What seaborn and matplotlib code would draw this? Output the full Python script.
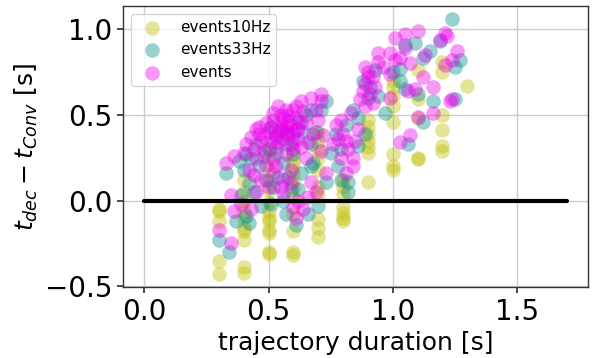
import matplotlib
matplotlib.use("Agg")
import matplotlib.pyplot as plt
import seaborn as sns
import pandas as pd

# events10Hz: durations sit on a 0.1 s grid
x_10hz = ([0.3] * 5 + [0.4] * 10 + [0.5] * 13 + [0.6] * 11 + [0.7] * 10 + [0.8] * 7
          + [0.9] * 7 + [1.0] * 8 + [1.1] * 5 + [1.2] * 6 + [1.3])
y_10hz = [-0.05, -0.06, -0.12, -0.35, -0.43,
          0.12, 0.05, -0.06, -0.10, -0.16, -0.18, -0.23, -0.39, -0.42, 0.00,
          0.18, 0.12, 0.06, -0.01, -0.06, -0.10, -0.12, -0.17, -0.19, -0.30, -0.31, 0.25, 0.30,
          0.23, 0.20, 0.16, 0.08, 0.02, -0.08, -0.18, -0.30, -0.32, 0.12, 0.28,
          0.35, 0.30, 0.25, 0.18, 0.08, 0.04, -0.11, -0.16, -0.21, 0.40,
          0.12, 0.04, -0.04, -0.07, -0.10, -0.12, 0.08,
          0.43, 0.39, 0.35, 0.31, 0.28, 0.11, 0.47,
          0.70, 0.66, 0.61, 0.55, 0.46, 0.27, 0.20, 0.18,
          0.76, 0.59, 0.48, 0.25, 0.24,
          0.81, 0.75, 0.50, 0.41, 0.32, 0.29,
          0.67]

# events33Hz
x_33hz = [0.33, 0.30, 0.34, 0.37, 0.42, 0.41, 0.39, 0.38, 0.41, 0.45, 0.53, 0.49, 0.52, 0.51,
          0.57, 0.61, 0.66, 0.70, 0.73, 0.67, 0.63, 0.60, 0.67, 0.73, 0.67, 0.71, 0.55, 0.57,
          0.77, 0.79, 0.82, 0.82, 0.84, 0.89, 0.88, 0.94, 0.97, 1.00, 1.03, 1.03, 1.05, 1.09,
          1.12, 1.15, 1.24, 1.19, 1.27, 1.25, 1.16, 1.12, 1.25, 1.06, 1.10, 1.05,
          0.46, 0.48, 0.50, 0.56, 0.58, 0.62, 0.64, 0.69, 0.44, 0.47, 0.56, 0.59, 0.62,
          0.79, 0.81, 0.86, 0.91, 0.93, 0.86, 0.54,
          0.40, 0.43, 0.51, 0.53, 0.60, 0.65, 0.68, 0.42, 0.58, 0.75, 0.78, 0.90]
y_33hz = [0.16, -0.23, -0.30, -0.12, -0.13, -0.09, 0.03, 0.23, 0.27, 0.33, 0.37, 0.12, 0.08, -0.02,
          -0.08, -0.14, -0.08, -0.03, 0.11, 0.20, 0.16, 0.27, 0.33, 0.58, 0.53, 0.53, 0.41, 0.33,
          0.39, 0.12, 0.05, 0.11, 0.53, 0.39, 0.70, 0.61, 0.51, 0.75, 0.77, 0.70, 0.91, 0.92,
          0.83, 0.87, 1.06, 0.93, 0.82, 0.78, 0.58, 0.46, 0.59, 0.33, 0.62, 0.65,
          0.20, 0.26, 0.30, 0.22, 0.40, 0.46, 0.40, 0.40, 0.05, -0.03, 0.00, 0.06, 0.07,
          0.30, 0.44, 0.48, 0.66, 0.76, 0.32, 0.14,
          0.18, 0.25, 0.43, 0.28, 0.35, 0.50, 0.22, 0.10, 0.14, 0.28, 0.20, 0.60]

# events
x_ev = [0.33, 0.36, 0.35, 0.36, 0.30, 0.35,
        0.39, 0.43, 0.45, 0.42, 0.41, 0.43, 0.45, 0.46, 0.49, 0.52, 0.55, 0.57, 0.60, 0.63, 0.67, 0.71, 0.71,
        0.52, 0.55, 0.56, 0.60, 0.61, 0.64, 0.67, 0.69, 0.71, 0.72, 0.65, 0.63, 0.57, 0.53, 0.51, 0.48, 0.45,
        0.60, 0.57, 0.65, 0.68, 0.49, 0.53, 0.59,
        0.54, 0.56, 0.58, 0.61, 0.62, 0.59, 0.55, 0.50, 0.47, 0.44, 0.40, 0.64, 0.58, 0.62, 0.66, 0.70,
        0.69, 0.52, 0.56, 0.47, 0.44, 0.50, 0.62, 0.66, 0.59, 0.54, 0.61,
        0.51, 0.53, 0.55, 0.57, 0.59, 0.61, 0.54, 0.56, 0.58, 0.48, 0.46, 0.63, 0.52, 0.60,
        0.76, 0.79, 0.80, 0.83, 0.84, 0.84, 0.81, 0.73, 0.79, 0.77, 0.82, 0.86, 0.87, 0.89, 0.89, 0.92,
        0.94, 0.94, 0.99, 1.01, 1.01, 0.99, 0.99, 0.92, 0.89, 0.88, 0.90, 0.91, 0.85,
        0.78, 0.81, 0.90, 0.93, 0.96,
        1.05, 1.10, 1.07, 1.12, 1.16, 1.06, 1.09, 1.19, 1.21, 1.22, 1.26, 1.24, 1.21, 1.23, 1.24,
        1.16, 1.10, 1.07, 1.03, 1.13, 1.03, 1.05]
y_ev = [0.22, 0.26, 0.03, -0.06, -0.17, -0.25,
        -0.02, -0.05, 0.05, 0.18, 0.33, 0.37, 0.42, 0.39, 0.45, 0.47, 0.50, 0.53, 0.53, 0.58, 0.60, 0.62, 0.58,
        0.16, 0.08, 0.04, -0.04, -0.10, -0.05, 0.11, 0.05, 0.29, 0.38, 0.25, 0.31, 0.27, 0.31, 0.35, 0.29, 0.25,
        0.39, 0.43, 0.45, 0.39, 0.21, 0.20, 0.18,
        0.40, 0.36, 0.46, 0.48, 0.42, 0.33, 0.45, 0.40, 0.34, 0.30, 0.28, 0.52, 0.50, 0.36, 0.34, 0.47,
        0.53, 0.24, 0.12, 0.12, 0.15, 0.08, 0.00, 0.02, 0.10, 0.55, 0.55,
        0.43, 0.38, 0.42, 0.40, 0.44, 0.41, 0.34, 0.48, 0.38, 0.37, 0.43, 0.46, 0.51, 0.30,
        0.33, 0.47, 0.39, 0.51, 0.25, 0.20, 0.16, 0.16, 0.25, 0.44, 0.30, 0.42, 0.59, 0.68, 0.78, 0.72,
        0.81, 0.86, 0.86, 0.95, 0.82, 0.74, 0.60, 0.57, 0.55, 0.64, 0.72, 0.62, 0.35,
        0.36, 0.35, 0.75, 0.66, 0.78,
        0.97, 0.99, 0.80, 0.72, 0.66, 0.64, 0.65, 0.94, 0.98, 0.96, 0.87, 0.82, 0.79, 0.58, 0.59,
        0.51, 0.49, 0.38, 0.34, 0.85, 0.83, 0.89]

# zero reference line
zero_x = [0.0, 1.7]
zero_y = [0.0, 0.0]

series = [
    ("events10Hz", x_10hz, y_10hz, "#bfbf00"),
    ("events33Hz", x_33hz, y_33hz, "#008b8b"),
    ("events", x_ev, y_ev, "#ee00ee"),
]

sns.set_theme(style="ticks")
plt.rcParams["font.family"] = ["DejaVu Sans"]
plt.rcParams["text.color"] = "black"
plt.rcParams["axes.labelcolor"] = "black"
plt.rcParams["xtick.color"] = "black"
plt.rcParams["ytick.color"] = "black"

fig = plt.figure(figsize=(5.92, 3.58), dpi=100)
ax = fig.add_axes([0.208, 0.198, 0.785, 0.785])

for name, xs, ys, col in series:
    df = pd.DataFrame({"duration": xs, "delta": ys})
    sns.scatterplot(data=df, x="duration", y="delta", ax=ax, color=col,
                    s=110, alpha=0.4, linewidth=0, label=name)

ax.plot(zero_x, zero_y, color="black", linewidth=3)

ax.grid(True, color="#cccccc", linewidth=1)
ax.set_axisbelow(True)
for sp in ax.spines.values():
    sp.set_color("#333333")
    sp.set_linewidth(1)

ax.set_xticks([0.0, 0.5, 1.0, 1.5])
ax.set_yticks([-0.5, 0.0, 0.5, 1.0])
ax.tick_params(labelsize=20, length=4, color="#333333")
ax.set_xlabel("trajectory duration [s]", fontsize=18)
ax.set_ylabel(r"$t_{dec} - t_{Conv}$ [s]", fontsize=18)
ax.set_xlim(-0.085, 1.785)
ax.set_ylim(-0.505, 1.135)

leg = ax.legend(loc="upper left", fontsize=11, frameon=True)
leg.get_frame().set_edgecolor("#cccccc")

fig.savefig("out.png", dpi=100)
